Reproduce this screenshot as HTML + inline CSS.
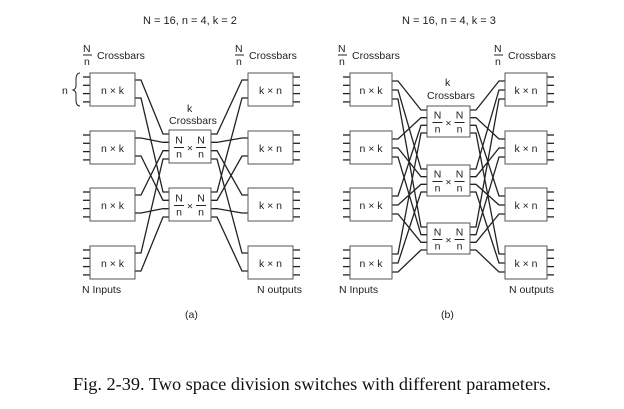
<!DOCTYPE html>
<html><head><meta charset="utf-8"><style>
html,body{margin:0;padding:0;background:#fff;width:624px;height:409px;overflow:hidden}
svg{display:block}
text{font-family:"Liberation Sans",sans-serif;font-size:10.5px;fill:#222}
.t{font-size:11px}
.cap{font-family:"Liberation Serif",serif;font-size:18.3px;fill:#111}
</style></head><body>
<svg id="s" width="624" height="409" xmlns="http://www.w3.org/2000/svg">
<g id="lines" stroke="#222" stroke-width="1.3" fill="none"></g>
<g id="boxes" stroke="#555" stroke-width="1" fill="#fff"></g>
<text class="t" x="143" y="24">N = 16, n = 4, k = 2</text>
<text class="t" x="402" y="24">N = 16, n = 4, k = 3</text>
<g>
<text x="83" y="52">N</text><line x1="83" y1="55" x2="92" y2="55" stroke="#222"/><text x="84" y="65">n</text><text x="97" y="59">Crossbars</text>
<text x="235" y="52">N</text><line x1="235" y1="55" x2="244" y2="55" stroke="#222"/><text x="236" y="65">n</text><text x="249" y="59">Crossbars</text>
<text x="338" y="52">N</text><line x1="338" y1="55" x2="347" y2="55" stroke="#222"/><text x="339" y="65">n</text><text x="352" y="59">Crossbars</text>
<text x="494" y="52">N</text><line x1="494" y1="55" x2="503" y2="55" stroke="#222"/><text x="495" y="65">n</text><text x="508" y="59">Crossbars</text>
<text x="187" y="112">k</text><text x="169" y="124">Crossbars</text>
<text x="445" y="86">k</text><text x="427" y="99">Crossbars</text>
<text x="62" y="94">n</text>
<path d="M80 73 Q76 73 76 80 L76 86 Q76 89 73 90 Q76 91 76 94 L76 100 Q76 106 80 106" stroke="#222" fill="none"/>
<text x="82" y="293">N Inputs</text><text x="257" y="293">N outputs</text>
<text x="339" y="293">N Inputs</text><text x="509" y="293">N outputs</text>
<text x="185" y="318">(a)</text><text x="441" y="318">(b)</text>
<text class="cap" x="73" y="390">Fig. 2-39. Two space division switches with different parameters.</text>
</g>
<g id="labels"></g>
</svg>
<script>
var L=document.getElementById('lines'),B=document.getElementById('boxes'),T=document.getElementById('labels');
var ns='http://www.w3.org/2000/svg';
function el(p,t,a,txt){var e=document.createElementNS(ns,t);for(var k in a)e.setAttribute(k,a[k]);if(txt)e.textContent=txt;p.appendChild(e);return e;}
function diagram(o){
 var inY=[73,131,188,246],H=33;
 var K=o.midY.length;
 var outOff=K==2?[7,25]:[8,17,26];
 var midOff=[];for(var i=0;i<4;i++)midOff.push(4+i*(o.midH-8)/3);
 inY.forEach(function(y,i){
  for(var p=0;p<4;p++){var yy=y+4+p*8.3;el(L,'line',{x1:o.inX-7,y1:yy,x2:o.inX,y2:yy});
   el(L,'line',{x1:o.outX+o.w,y1:yy,x2:o.outX+o.w+7,y2:yy});}
  for(var j=0;j<K;j++){
   var a=y+outOff[j],m=o.midY[j]+midOff[i];
   el(L,'polyline',{points:(o.inX+o.w)+','+a+' '+(o.inX+o.w+6)+','+a+' '+(o.midX-6)+','+m+' '+o.midX+','+m});
   el(L,'polyline',{points:(o.midX+o.mw)+','+m+' '+(o.midX+o.mw+6)+','+m+' '+(o.outX-6)+','+a+' '+o.outX+','+a});
  }
  el(B,'rect',{x:o.inX,y:y,width:o.w,height:H});
  el(B,'rect',{x:o.outX,y:y,width:o.w,height:H});
  el(T,'text',{x:o.inX+o.w/2,y:y+21,'text-anchor':'middle'},'n × k');
  el(T,'text',{x:o.outX+o.w/2,y:y+21,'text-anchor':'middle'},'k × n');
 });
 o.midY.forEach(function(y){
  el(B,'rect',{x:o.midX,y:y,width:o.mw,height:o.midH});
  var cx=o.midX+o.mw/2,cy=y+o.midH/2;
  el(T,'text',{x:cx-11,y:cy-3,'text-anchor':'middle'},'N');
  el(T,'text',{x:cx-11,y:cy+11,'text-anchor':'middle'},'n');
  el(T,'text',{x:cx+11,y:cy-3,'text-anchor':'middle'},'N');
  el(T,'text',{x:cx+11,y:cy+11,'text-anchor':'middle'},'n');
  el(T,'text',{x:cx,y:cy+5,'text-anchor':'middle'},'×');
  el(T,'line',{x1:cx-16,y1:cy+1,x2:cx-6,y2:cy+1,stroke:'#222'});
  el(T,'line',{x1:cx+6,y1:cy+1,x2:cx+16,y2:cy+1,stroke:'#222'});
 });
}
diagram({inX:90,w:45,outX:248,midX:169,mw:42,midY:[130,188],midH:33});
diagram({inX:350,w:42,outX:505,midX:427,mw:43,midY:[106,165,223],midH:31});
</script>
</body></html>
